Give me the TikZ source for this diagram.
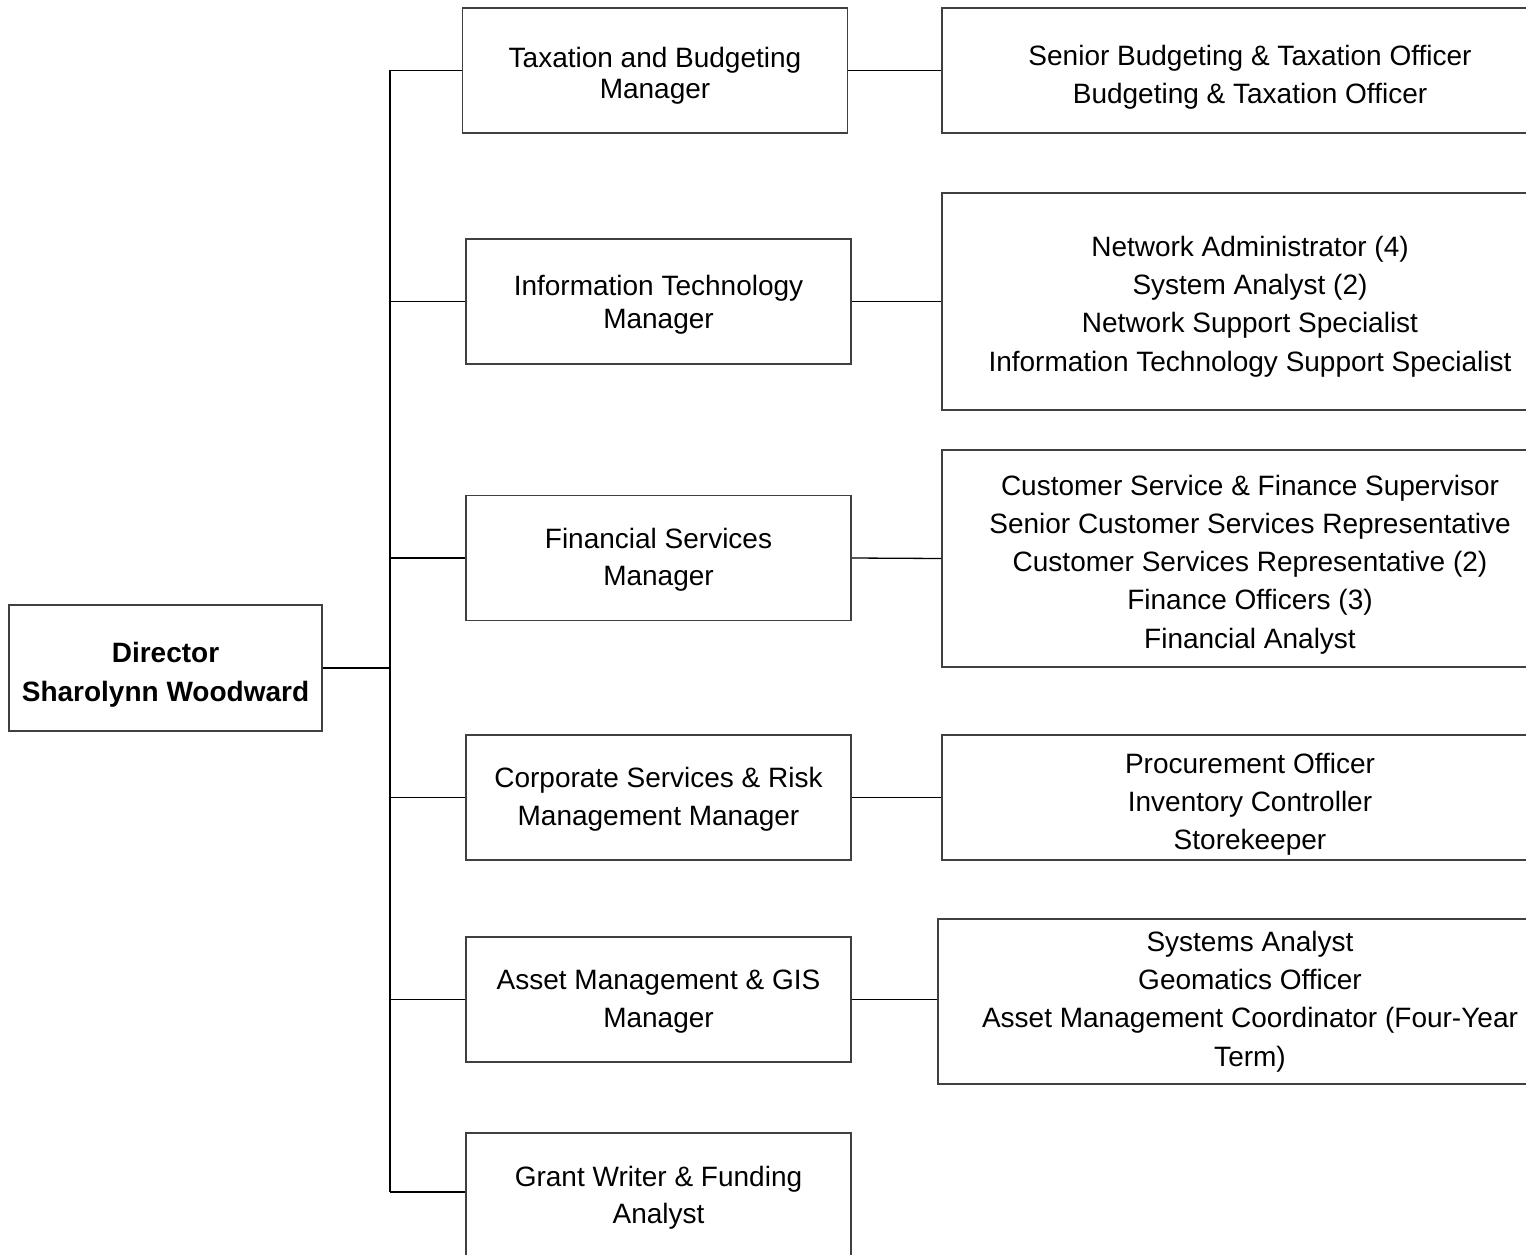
\documentclass[tikz,border=0pt]{standalone}
\usepackage{fontspec}
\setmainfont{Liberation Sans}
\newcommand\boxfont{\fontsize{28}{37.5}\selectfont}
\newcommand\staffont{\fontsize{28}{38.2}\selectfont}
\begin{document}
\begin{tikzpicture}[x=1pt,y=-1pt,
  orgbox/.style={draw=black!75, line width=1.6pt, inner sep=0pt, anchor=center},
  mgr/.style={orgbox, minimum width=385pt, minimum height=125pt},
  staff/.style={orgbox, minimum width=616pt},
  txt/.style={inner sep=0pt, align=center, font=\boxfont, anchor=center},
  stafftxt/.style={txt, font=\staffont},
  link/.style={draw=black, line width=1.3pt},
  trunkline/.style={draw=black, line width=2.4pt}]
\useasboundingbox (0,0) rectangle (1526,1255);
\clip (0,0) rectangle (1526,1255);

% Director
\node[orgbox, minimum width=313pt, minimum height=126pt] (dir) at (165.5,668) {};
\node[txt, font=\fontsize{28}{39}\selectfont\bfseries] (dirtxt) at ([yshift=-7pt]dir.center) {Director\\Sharolynn Woodward};

% Managers
\node[mgr] (tax) at (655,70.5) {};
\node[txt, font=\fontsize{28}{31}\selectfont] (taxtxt) at ([yshift=-5.5pt]tax.center) {Taxation and Budgeting\\Manager};
\node[mgr] (it) at (658.5,301.5) {};
\node[txt, font=\fontsize{28}{33}\selectfont] (ittxt) at ([yshift=-3.5pt]it.center) {Information Technology\\Manager};
\node[mgr] (fin) at (658.5,558) {};
\node[txt] (fintxt) at ([yshift=-2pt]fin.center) {Financial Services\\Manager};
\node[mgr] (corp) at (658.5,797.5) {};
\node[txt] (corptxt) at ([yshift=-2pt]corp.center) {Corporate Services \& Risk\\Management Manager};
\node[mgr] (asset) at (658.5,999.5) {};
\node[txt] (assettxt) at ([yshift=-2pt]asset.center) {Asset Management \& GIS\\Manager};
\node[mgr, minimum height=124pt] (grant) at (658.5,1195) {};
\node[txt] (granttxt) at ([yshift=-2.5pt]grant.center) {Grant Writer \& Funding\\Analyst};

% Staff boxes
\node[staff, minimum height=125pt] (r1) at (1250,70.5) {};
\node[stafftxt] (r1txt) at ([yshift=-7pt]r1.center) {Senior Budgeting \& Taxation Officer\\Budgeting \& Taxation Officer};
\node[staff, minimum height=217pt] (r2) at (1250,301.5) {};
\node[stafftxt] (r2txt) at ([yshift=-5pt]r2.center) {Network Administrator (4)\\System Analyst (2)\\Network Support Specialist\\Information Technology Support Specialist};
\node[staff, minimum height=217pt] (r3) at (1250,558.5) {};
\node[stafftxt] (r3txt) at ([yshift=-6pt]r3.center) {Customer Service \& Finance Supervisor\\Senior Customer Services Representative\\Customer Services Representative (2)\\Finance Officers (3)\\Financial Analyst};
\node[staff, minimum height=125pt] (r4) at (1250,797.5) {};
\node[stafftxt] (r4txt) at ([yshift=-6.5pt]r4.center) {Procurement Officer\\Inventory Controller\\Storekeeper};
\node[staff, minimum width=624pt, minimum height=165pt] (r5) at (1250,1001.5) {};
\node[stafftxt] (r5txt) at ([yshift=0pt]r5.center) {Systems Analyst\\Geomatics Officer\\Asset Management Coordinator (Four-Year\\Term)};

% Trunk
\coordinate (ttop) at (390,70.5);
\coordinate (tbot) at (390,1192);
\draw[trunkline] (ttop) -- (tbot);
\draw[link] (dir.east) -- (dir.east -| ttop);
\draw[link] (tax.west) -- (ttop);
\draw[link] (it.west) -- (it.west -| ttop);
\draw[link] (fin.west) -- (fin.west -| ttop);
\draw[link] (corp.west) -- (corp.west -| ttop);
\draw[link] (asset.west) -- (asset.west -| ttop);
\draw[link] (tbot) -- (tbot -| grant.west);

% Manager to staff
\draw[link] (tax.east) -- (r1.west);
\draw[link] (it.east) -- (r2.west);
\draw[link] (fin.east) -- (r3.west);
\draw[link] (corp.east) -- (r4.west);
\draw[link] (asset.east) -- (asset.east -| r5.west);
\end{tikzpicture}
\end{document}
